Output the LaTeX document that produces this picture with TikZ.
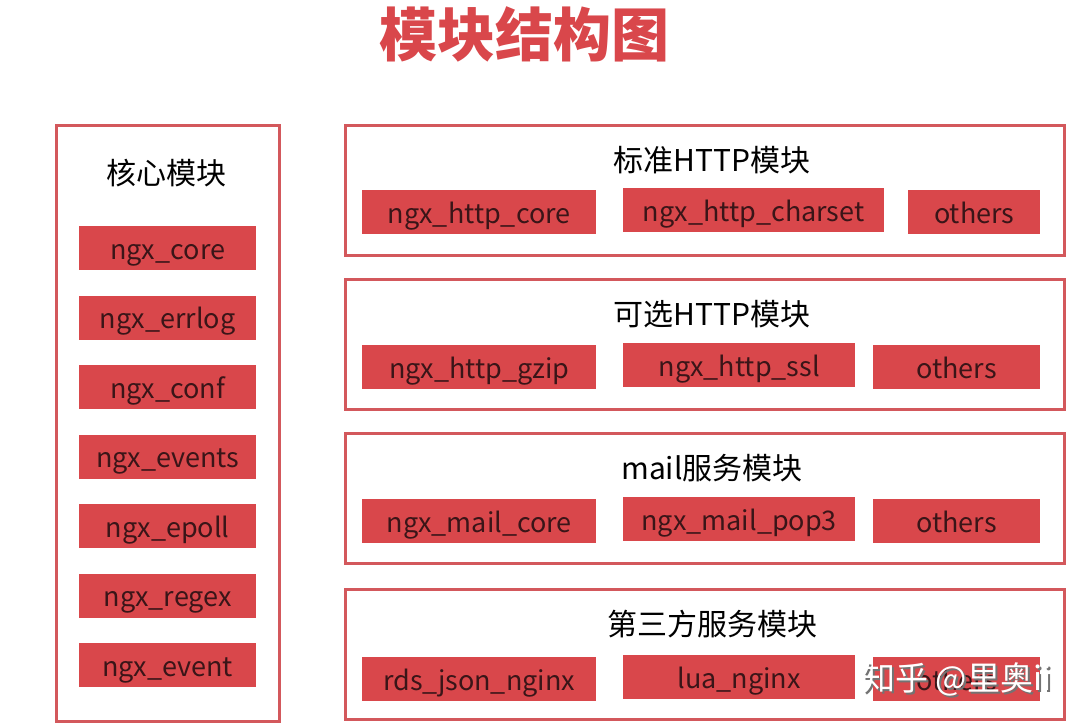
\documentclass[tikz,border=0pt]{standalone}
\usepackage{fontspec}
\setmainfont{Noto Sans CJK SC}
\usetikzlibrary{positioning}

\definecolor{modred}{HTML}{D9474B}
\definecolor{framered}{HTML}{D3585C}
\definecolor{modtext}{HTML}{3A1518}

\tikzset{
	frame/.style={draw=framered, line width=2.5pt, anchor=north west, inner sep=0pt},
	modbox/.style={fill=modred, text=modtext, anchor=north west, inner sep=0pt,
		minimum height=44pt, text height=24pt, text depth=2pt,
		font=\fontsize{27}{27}\selectfont},
	heading/.style={text=black, font=\fontsize{30}{30}\selectfont},
}

\begin{document}
\begin{tikzpicture}[x=1pt, y=-1pt]
	\useasboundingbox (0,0) rectangle (1080,723);
	\fill[white] (0,0) rectangle (1080,723);

	% title
	\node[text=modred, font=\fontsize{58}{58}\selectfont\bfseries] (title) at (524,34) {模块结构图};

	% core modules
	\node[frame, minimum width=223pt, minimum height=596pt] (coreframe) at (55,124) {};
	\node[heading] (corehead) at (166,173) {核心模块};
	\foreach \name [count=\i from 0] in {core, errlog, conf, events, epoll, regex, event}
		\node[modbox, minimum width=177pt] (core\i) at (79,226+69.5*\i) {ngx\_\name};

	% standard http
	\node[frame, minimum width=719pt, minimum height=130pt] (stdframe) at (344,124) {};
	\node[heading] (stdhead) at (712,160) {标准HTTP模块};
	\node[modbox, minimum width=234pt] (stdcore) at (362,190) {ngx\_http\_core};
	\node[modbox, minimum width=261pt] (stdcharset) at (623,188) {ngx\_http\_charset};
	\node[modbox, minimum width=132pt] (stdothers) at (908,190) {others};

	% optional http
	\node[frame, minimum width=719pt, minimum height=130pt] (optframe) at (344,278) {};
	\node[heading] (opthead) at (712,314) {可选HTTP模块};
	\node[modbox, minimum width=234pt] (optgzip) at (362,345) {ngx\_http\_gzip};
	\node[modbox, minimum width=232pt] (optssl) at (623,343) {ngx\_http\_ssl};
	\node[modbox, minimum width=167pt] (optothers) at (873,345) {others};

	% mail
	\node[frame, minimum width=719pt, minimum height=130pt] (mailframe) at (344,432) {};
	\node[heading] (mailhead) at (712,468) {mail服务模块};
	\node[modbox, minimum width=234pt] (mailcore) at (362,499) {ngx\_mail\_core};
	\node[modbox, minimum width=232pt] (mailpop) at (623,497) {ngx\_mail\_pop3};
	\node[modbox, minimum width=167pt] (mailothers) at (873,499) {others};

	% third party
	\node[frame, minimum width=719pt, minimum height=130pt] (extframe) at (344,588) {};
	\node[heading] (exthead) at (712,624) {第三方服务模块};
	\node[modbox, minimum width=234pt] (extrds) at (362,657) {rds\_json\_nginx};
	\node[modbox, minimum width=232pt] (extlua) at (623,655) {lua\_nginx};
	\node[modbox, minimum width=167pt] (extothers) at (873,657) {others};

	% watermark
	\node[text=black!55, font=\fontsize{33}{33}\selectfont] (markshadow) at (959,681) {知乎 @里奥ii};
	\node[text=white, font=\fontsize{33}{33}\selectfont] (mark) at (957,679) {知乎 @里奥ii};
\end{tikzpicture}
\end{document}
